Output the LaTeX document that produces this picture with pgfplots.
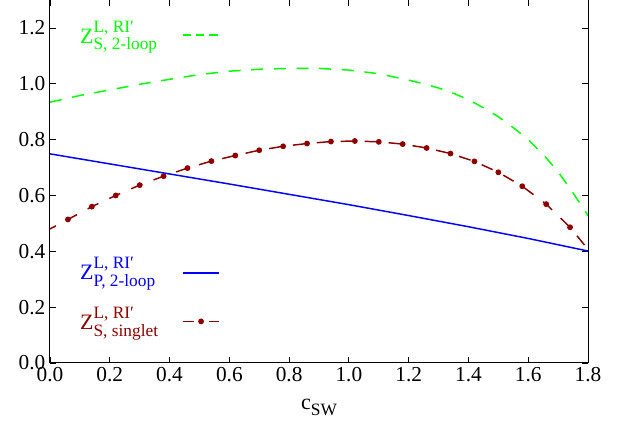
\documentclass[border=0pt]{standalone}
\usepackage{fontspec}
\setmainfont{Liberation Serif}
\usepackage{pgfplots}
\pgfplotsset{compat=1.18}

\definecolor{cgreen}{rgb}{0,1,0}
\definecolor{cblue}{rgb}{0,0,1}
\definecolor{cred}{rgb}{0.55,0,0}

% Z with stacked super- and subscript
\newcommand\zlab[1]{{\fontsize{16.5}{16}\selectfont Z}\rlap{\raisebox{8.3pt}{\fontsize{13}{13}\selectfont L, RI\char"2032}}\raisebox{-5pt}{\fontsize{13}{13}\selectfont #1}}

\begin{document}
\begin{tikzpicture}
\begin{axis}[
  name=ax,
  scale only axis,
  width=403.5pt, height=272.25pt,
  xmin=0, xmax=1.8, ymin=0, ymax=1.3,
  xtick={0,0.2,0.4,0.6,0.8,1.0,1.2,1.4,1.6,1.8},
  ytick={0,0.2,0.4,0.6,0.8,1.0,1.2},
  tick align=inside,
  major tick length=4.5pt,
  tick style={black, line width=0.6pt},
  axis line style={line width=0.75pt},
  /pgf/number format/assume math mode=true,
  /pgf/number format/fixed,
  /pgf/number format/fixed zerofill,
  /pgf/number format/precision=1,
  tick label style={font=\fontsize{16}{18}\selectfont},
  xlabel={c\raisebox{-4pt}{\fontsize{13}{13}\selectfont SW}},
  xlabel style={font=\fontsize{16.5}{16}\selectfont, yshift=-6pt},
]
% Z_S, 2-loop
\addplot[cgreen, line width=1.1pt, dash pattern=on 9pt off 8pt] coordinates {
  (0.00,0.934) (0.10,0.958) (0.20,0.978) (0.30,0.998) (0.40,1.016)
  (0.50,1.033) (0.60,1.045) (0.70,1.052) (0.80,1.055) (0.90,1.055)
  (1.00,1.049) (1.10,1.036) (1.20,1.013) (1.25,1.000) (1.30,0.985)
  (1.35,0.966) (1.40,0.943) (1.45,0.914) (1.50,0.882) (1.55,0.843)
  (1.60,0.800) (1.65,0.747) (1.70,0.685) (1.75,0.609) (1.80,0.528)
};
% Z_P, 2-loop
\addplot[cblue, line width=1.1pt] coordinates {
  (0.00,0.749) (0.20,0.713) (0.40,0.677) (0.60,0.641) (0.80,0.604)
  (1.00,0.567) (1.20,0.528) (1.40,0.488) (1.60,0.446) (1.80,0.401)
};
% Z_S, singlet
\addplot[cred, line width=1.1pt, dash pattern=on 9pt off 9pt, dash phase=4pt,
  mark=*, mark size=1.6pt, mark options={solid}, mark indices={2,...,23}] coordinates {
  (0.00,0.480) (0.06,0.514) (0.14,0.560) (0.22,0.600) (0.30,0.637)
  (0.38,0.669) (0.46,0.698) (0.54,0.723) (0.62,0.743) (0.70,0.762)
  (0.78,0.776) (0.86,0.786) (0.94,0.793) (1.02,0.795) (1.10,0.792)
  (1.18,0.784) (1.26,0.770) (1.34,0.750) (1.42,0.722) (1.50,0.683)
  (1.58,0.633) (1.66,0.569) (1.74,0.486) (1.80,0.407)
};
% legend samples
\addplot[cgreen, line width=1.2pt, dash pattern=on 6.25pt off 3.75pt] coordinates {(0.444,1.174) (0.567,1.174)};
\addplot[cblue, line width=1.1pt] coordinates {(0.444,0.323) (0.567,0.323)};
\addplot[cred, line width=1.1pt, dash pattern=on 8.25pt off 11.25pt,
  mark=*, mark size=1.6pt, mark options={solid}, mark indices={2}] coordinates {(0.444,0.149) (0.5055,0.149) (0.567,0.149)};
\node[anchor=base west, text=cgreen, inner sep=0pt] at (axis cs:0.10,1.145) {\zlab{S, 2-loop}};
\node[anchor=base west, text=cblue, inner sep=0pt] at (axis cs:0.10,0.298) {\zlab{P, 2-loop}};
\node[anchor=base west, text=cred, inner sep=0pt] at (axis cs:0.10,0.120) {\zlab{S, singlet}};
\end{axis}
\pgfresetboundingbox
\path[use as bounding box] ([shift={(-37.5pt,-45.75pt)}]ax.south west) rectangle ([shift={(24.75pt,0pt)}]ax.north east);
\end{tikzpicture}
\end{document}
